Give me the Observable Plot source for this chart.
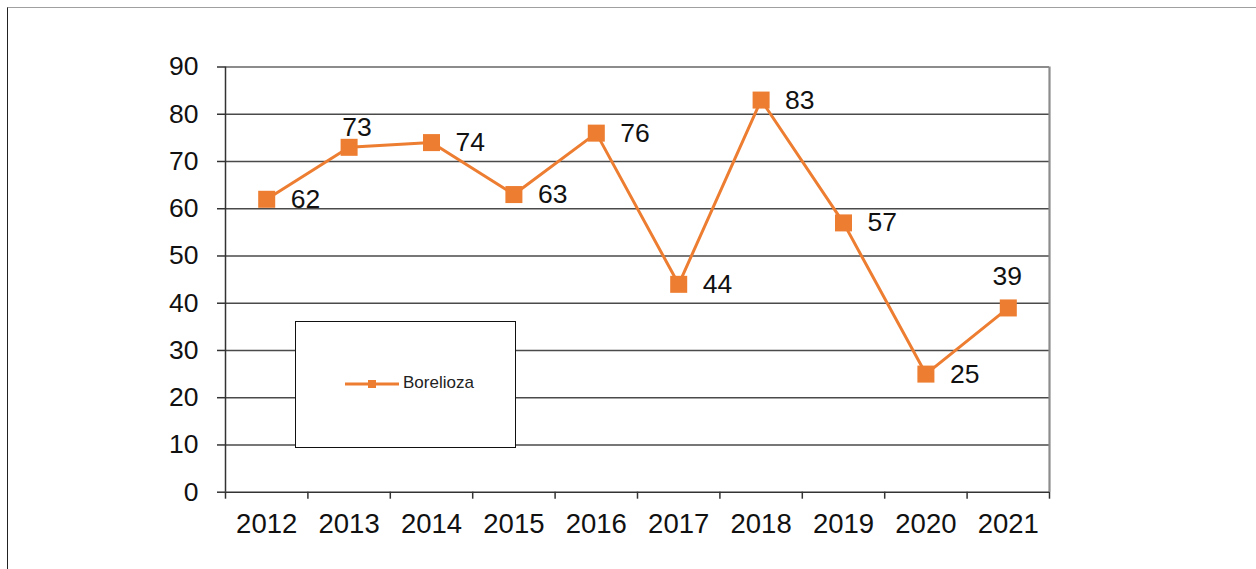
<!DOCTYPE html>
<html>
<head>
<meta charset="utf-8">
<script src="https://cdn.jsdelivr.net/npm/d3@7"></script>
<script src="https://cdn.jsdelivr.net/npm/@observablehq/plot@0.6"></script>
<style>
  html, body { margin: 0; padding: 0; background: #fff; }
  #wrap { position: relative; width: 1256px; height: 569px; overflow: hidden; font-family: "Liberation Sans", Arial, sans-serif; }
  #frame { position: absolute; left: 7px; top: 7px; right: 0; bottom: -2px; border-top: 1px solid #a0a0a0; border-left: 1px solid #222; pointer-events: none; }
  #chart { position: absolute; left: 0; top: 0; }
  #legend { position: absolute; left: 295px; top: 321px; width: 219px; height: 125px; background: #fff; border: 1px solid #111; }
  #legend svg { position: absolute; left: 0; top: 0; }
  #legend span { position: absolute; left: 107px; top: 51px; font-size: 17px; line-height: 20px; color: #222; }
</style>
</head>
<body>
<div id="wrap">
  <div id="frame"></div>
  <div id="chart"></div>
  <div id="legend"></div>
</div>
<script>
const years = [2012, 2013, 2014, 2015, 2016, 2017, 2018, 2019, 2020, 2021];
const values = [62, 73, 74, 63, 76, 44, 83, 57, 25, 39];
const seriesName = "Borelioza";
const yTicks = [0, 10, 20, 30, 40, 50, 60, 70, 80, 90];
const labelsAbove = [2013, 2021];

const data = years.map((year, i) => ({year, value: values[i]}));
const boundaries = [years[0] - 0.5, ...years.map(y => y + 0.5)];
const orange = "#ED7D31";

const chart = Plot.plot({
  width: 1256,
  height: 569,
  marginLeft: 225,
  marginRight: 207,
  marginTop: 66.5,
  marginBottom: 77.3,
  style: {fontFamily: "'Liberation Sans', Arial, sans-serif", background: "transparent", color: "#111"},
  x: {type: "linear", domain: [years[0] - 0.5, years[years.length - 1] + 0.5]},
  y: {domain: [0, 90]},
  marks: [
    Plot.ruleY(yTicks.filter(t => t > 0 && t < 90), {stroke: "#4a4a4a", strokeWidth: 1.5, strokeOpacity: 1}),
    Plot.ruleY([90], {stroke: "#8c8c8c", strokeWidth: 2.2, strokeOpacity: 1}),
    Plot.ruleX([years[years.length - 1] + 0.5], {stroke: "#8c8c8c", strokeWidth: 2.2, strokeOpacity: 1}),
    Plot.ruleY([0], {stroke: "#333", strokeWidth: 1.5}),
    Plot.ruleX([years[0] - 0.5], {stroke: "#333", strokeWidth: 1.5}),
    Plot.axisY({ticks: yTicks, tickSize: 8, tickPadding: 19, fontSize: 26.5, stroke: "#333", strokeWidth: 1.5, color: "#111", label: null, tickFormat: d => String(d)}),
    Plot.axisX({ticks: boundaries, tickSize: 7, tickFormat: () => "", stroke: "#333", strokeWidth: 1.5, label: null}),
    Plot.axisX({ticks: years, tickSize: 0, tickPadding: 21, fontSize: 27.5, tickFormat: d => String(d), label: null, color: "#111"}),
    Plot.line(data, {x: "year", y: "value", stroke: orange, strokeWidth: 3}),
    Plot.dot(data, {x: "year", y: "value", symbol: "square", r: 9.6, fill: orange, stroke: "none"}),
    Plot.text(data.filter(d => !labelsAbove.includes(d.year)), {x: "year", y: "value", text: d => String(d.value), textAnchor: "start", dx: 24, fontSize: 26.5, fill: "#111"}),
    Plot.text(data.filter(d => d.year === labelsAbove[0]), {x: "year", y: "value", text: d => String(d.value), dx: 8, dy: -20, fontSize: 26.5, fill: "#111"}),
    Plot.text(data.filter(d => d.year === labelsAbove[1]), {x: "year", y: "value", text: d => String(d.value), dx: -1, dy: -31, fontSize: 26.5, fill: "#111"})
  ]
});
document.getElementById("chart").appendChild(chart);

// Legend
const leg = document.getElementById("legend");
const ns = "http://www.w3.org/2000/svg";
const sw = document.createElementNS(ns, "svg");
sw.setAttribute("width", 219);
sw.setAttribute("height", 125);
const ln = document.createElementNS(ns, "line");
ln.setAttribute("x1", 49); ln.setAttribute("x2", 103);
ln.setAttribute("y1", 62); ln.setAttribute("y2", 62);
ln.setAttribute("stroke", orange); ln.setAttribute("stroke-width", 2.8);
sw.appendChild(ln);
const sq = document.createElementNS(ns, "rect");
sq.setAttribute("x", 72); sq.setAttribute("y", 58);
sq.setAttribute("width", 8); sq.setAttribute("height", 8);
sq.setAttribute("fill", orange);
sw.appendChild(sq);
leg.appendChild(sw);
const lt = document.createElement("span");
lt.textContent = seriesName;
leg.appendChild(lt);
</script>
</body>
</html>
